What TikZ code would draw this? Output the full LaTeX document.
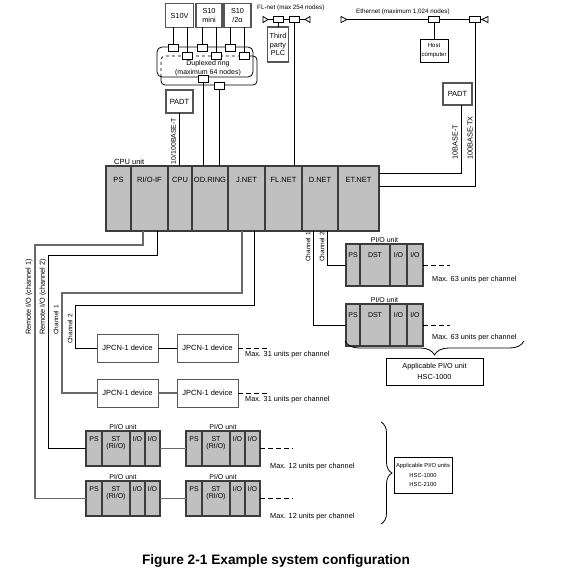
\documentclass[tikz,border=0pt]{standalone}
\usepackage{fontspec}
\setmainfont{Liberation Sans}
\usetikzlibrary{decorations.pathreplacing}
\definecolor{unitgray}{RGB}{192,192,192}
\definecolor{edgegray}{RGB}{60,60,60}
\definecolor{boxgray}{RGB}{85,85,85}
\definecolor{chgray}{RGB}{105,105,105}
% one remote PI/O unit: name, left, top
\newcommand{\remunit}[3]{%
  \node[cell, minimum width=16, minimum height=35, anchor=north west,
    label={[celltxt]north:PS}] (#1-ps) at (#2,#3) {};
  \node[cell, minimum width=28, minimum height=35, anchor=north west,
    label={[celltxt]north:{ST\\(RI/O)}}] (#1-st) at (#1-ps.north east) {};
  \node[cell, minimum width=15, minimum height=35, anchor=north west,
    label={[celltxt]north:I/O}] (#1-io1) at (#1-st.north east) {};
  \node[cell, minimum width=15, minimum height=35, anchor=north west,
    label={[celltxt]north:I/O}] (#1-io2) at (#1-io1.north east) {};
  \node[unittxt] at ([xshift=37pt]#1-ps.north west) {PI/O unit};
}
% one D.NET PI/O unit: name, left, top
\newcommand{\dnetunit}[3]{%
  \node[cell, minimum width=14, minimum height=42, anchor=north west,
    label={[dcelltxt]north:PS}] (#1-ps) at (#2,#3) {};
  \node[cell, minimum width=30, minimum height=42, anchor=north west,
    label={[dcelltxt]north:DST}] (#1-dst) at (#1-ps.north east) {};
  \node[cell, minimum width=17, minimum height=42, anchor=north west,
    label={[dcelltxt]north:I/O}] (#1-io1) at (#1-dst.north east) {};
  \node[cell, minimum width=16, minimum height=42, anchor=north west,
    label={[dcelltxt]north:I/O}] (#1-io2) at (#1-io1.north east) {};
  \node[unittxt] at ([xshift=38.5pt]#1-ps.north west) {PI/O unit};
}

\begin{document}
\begin{tikzpicture}[x=1pt,y=-1pt,
    slot/.style={draw=edgegray, line width=1.3, fill=unitgray, inner sep=0pt,
      outer sep=0pt, minimum height=65, anchor=west},
    cell/.style={draw=edgegray, line width=1.3, fill=unitgray, inner sep=0pt, outer sep=0pt},
    slottxt/.style={anchor=north, yshift=-11pt, inner sep=0pt, font=\fontsize{7.5}{8}\selectfont},
    celltxt/.style={anchor=north, yshift=-5.5pt, inner sep=0pt, align=center,
      font=\fontsize{7}{6.5}\selectfont},
    dcelltxt/.style={celltxt, yshift=-3pt},
    unittxt/.style={anchor=south, yshift=1.5pt, inner sep=0pt, font=\fontsize{7}{8}\selectfont},
    devbox/.style={draw=boxgray, line width=1.1, fill=white, inner sep=0pt, outer sep=0pt,
      align=center, font=\fontsize{7.3}{8.3}\selectfont},
    jpcn/.style={draw=boxgray, line width=1, fill=white, minimum width=61, minimum height=28,
      inner sep=0pt, outer sep=0pt, font=\fontsize{7.5}{8}\selectfont},
    tap/.style={draw, fill=white, line width=0.8, minimum width=10, minimum height=7,
      inner sep=0pt, outer sep=0pt},
    link/.style={line width=0.8},
    graylink/.style={line width=1.1, draw=chgray},
    more/.style={line width=0.8, dash pattern=on 5pt off 3pt},
    note/.style={anchor=west, inner sep=0pt, font=\fontsize{7.3}{8}\selectfont},
    tiny/.style={inner sep=0pt, font=\fontsize{6.3}{7}\selectfont},
    vlabel/.style={rotate=90, inner sep=0pt, font=\fontsize{7.3}{8}\selectfont},
    chlabel/.style={rotate=90, inner sep=0pt, font=\fontsize{6.5}{7}\selectfont},
  ]
  \useasboundingbox (0,0) rectangle (571,575);

  % S10 controllers on the duplexed ring
  \node[devbox, minimum width=28, minimum height=24] (s10v) at (179.5,15.5) {S10V};
  \node[devbox, minimum width=26, minimum height=24] (s10m) at (209,15.5) {S10\\mini};
  \node[devbox, minimum width=27, minimum height=24] (s10a) at (237.5,15.5) {S10\\/2α};

  \draw[link, rounded corners=5] (157,47) rectangle (253,77);
  \draw[link, rounded corners=4] (250,56) -- (257,56) -- (257,85) -- (161,85) -- (161,77);
  \draw[link, dashed, rounded corners=4] (161,77) -- (161,56) -- (250,56);
  \node[tiny, align=center, font=\fontsize{7}{9}\selectfont] (ringlbl) at (208,68.5)
    {Duplexed ring\\(maximum 64 nodes)};

  \node[tap] (ta1) at (173,47.5) {};
  \node[tap] (ta2) at (202,47.5) {};
  \node[tap] (ta3) at (230,47.5) {};
  \node[tap] (tb1) at (187,55.5) {};
  \node[tap] (tb2) at (216,55.5) {};
  \node[tap] (tb3) at (244,55.5) {};
  \node[tap] (rtA) at (203,78.5) {};
  \node[tap] (rtB) at (219,86) {};
  \draw[link] (ta1 |- s10v.south) -- (ta1.north);
  \draw[link] (tb1 |- s10v.south) -- (tb1.north);
  \draw[link] (ta2 |- s10m.south) -- (ta2.north);
  \draw[link] (tb2 |- s10m.south) -- (tb2.north);
  \draw[link] (ta3 |- s10a.south) -- (ta3.north);
  \draw[link] (tb3 |- s10a.south) -- (tb3.north);

  \node[devbox, minimum width=27, minimum height=23, font=\fontsize{7.5}{8}\selectfont]
    (padtL) at (179.5,101.5) {PADT};
  \node[vlabel, font=\fontsize{6.9}{8}\selectfont] at (173.5,141) {10/100BASE-T};

  % FL-net
  \node[tiny, anchor=west] (flnetlbl) at (257,8) {FL-net (max 254 nodes)};
  \coordinate (flLt) at (268,19.5);
  \coordinate (flRt) at (305,19.5);
  \draw[link] (flLt) -- (flRt);
  \draw[link, fill=white] (flLt) -- ++(-5,-3) -- ++(0,6) -- cycle;
  \draw[link, fill=white] (flRt) -- ++(5,-3) -- ++(0,6) -- cycle;
  \node[tap, minimum height=6] (flA) at (278,19.5) {};
  \node[tap, minimum height=6] (flB) at (294,19.5) {};
  \node[devbox, minimum width=21, minimum height=35] (plc) at (278,44.5) {Third\\party\\PLC};
  \draw[link] (flA.south) -- (plc.north);

  % Ethernet
  \node[tiny, anchor=west] (etherlbl) at (356,12) {Ethernet (maximum 1,024 nodes)};
  \coordinate (etLt) at (347,19.5);
  \coordinate (etRt) at (482,19.5);
  \draw[link] (etLt) -- (etRt);
  \draw[link, fill=white] (etLt) -- ++(-6,-3) -- ++(0,6) -- cycle;
  \draw[link, fill=white] (etRt) -- ++(6,-3) -- ++(0,6) -- cycle;
  \node[tap, minimum width=11, minimum height=6] (etH) at (434,19.5) {};
  \node[tap, minimum width=11, minimum height=6] (etR) at (475,19.5) {};
  \node[draw, line width=0.8, fill=white, minimum width=28, minimum height=23, inner sep=0pt,
    align=center, font=\fontsize{6}{9}\selectfont] (host) at (434,50.5) {Host\\computer};
  \draw[link] (etH.south) -- (host.north);
  \node[devbox, minimum width=29, minimum height=22, font=\fontsize{7.5}{8}\selectfont]
    (padtR) at (457.5,94) {PADT};
  \node[vlabel] at (455,142) {10BASE-T};
  \node[vlabel] at (470,138) {100BASE-TX};

  % CPU unit
  \node[anchor=west, inner sep=0pt, font=\fontsize{7.5}{8}\selectfont] (cpulbl) at (114,161.5) {CPU unit};
  \node[slot, minimum width=25, label={[slottxt]north:PS}] (ps) at (106,198.5) {};
  \node[slot, minimum width=37, label={[slottxt]north:RI/O-IF}] (rio) at (ps.east) {};
  \node[slot, minimum width=24, label={[slottxt]north:CPU}] (cpu) at (rio.east) {};
  \node[slot, minimum width=36, label={[slottxt]north:OD.RING}] (odr) at (cpu.east) {};
  \node[slot, minimum width=37, label={[slottxt]north:J.NET}] (jnet) at (odr.east) {};
  \node[slot, minimum width=37, label={[slottxt]north:FL.NET}] (fl) at (jnet.east) {};
  \node[slot, minimum width=36, label={[slottxt]north:D.NET}] (dnet) at (fl.east) {};
  \node[slot, minimum width=41, label={[slottxt]north:ET.NET}] (et) at (dnet.east) {};

  \draw[link] (padtL.south) -- (padtL.south |- cpu.north);
  \draw[link] (rtA.south) -- (rtA.south |- odr.north);
  \draw[link] (rtB.south) -- (rtB.south |- odr.north);
  \draw[link] (flB.south) -- (flB.south |- fl.north);
  \draw[link] ([yshift=-7pt]et.north east) -| ([xshift=4pt]padtR.south);
  \draw[link] ([yshift=-20pt]et.north east) -| (etR.south);

  % D.NET PI/O units
  \dnetunit{dn1}{346}{244}
  \dnetunit{dn2}{346}{304}
  \draw[link] ([xshift=-7pt]dnet.south) |- (dn2-ps.west);
  \draw[link] ([xshift=7pt]dnet.south) |- (dn1-ps.west);
  \node[chlabel] at (308,247) {Channel 1};
  \node[chlabel] at (322,247) {Channel 2};
  \draw[more] (dn1-io2.east) -- ++(27,0);
  \draw[more] (dn2-io2.east) -- ++(27,0);
  \node[note] at (432,280) {Max. 63 units per channel};
  \node[note] at (432,338) {Max. 63 units per channel};
  \draw[link, decorate, decoration={brace, amplitude=14pt}] (524,341) -- (345,341);
  \node[draw, line width=0.8, minimum width=97, minimum height=27, inner sep=0pt, align=center,
    font=\fontsize{7.3}{11}\selectfont] (app1) at (434.5,371.5) {Applicable PI/O unit\\HSC-1000};

  % J.NET devices
  \node[jpcn] (jp1a) at (127.5,348) {JPCN-1 device};
  \node[jpcn] (jp1b) at (207.5,348) {JPCN-1 device};
  \node[jpcn] (jp2a) at (127.5,393) {JPCN-1 device};
  \node[jpcn] (jp2b) at (207.5,393) {JPCN-1 device};
  \draw[link] (jp1a) -- (jp1b);
  \draw[graylink] (jp2a) -- (jp2b);
  \draw[graylink] ([xshift=-4.5pt]jnet.south) -- ++(0,62) -| ([xshift=-35pt]jp2a.west) -- (jp2a.west);
  \draw[link] ([xshift=7.5pt]jnet.south) -- ++(0,74) -| ([xshift=-22pt]jp1a.west) -- (jp1a.west);
  \node[chlabel] at (56,320) {Channel 1};
  \node[chlabel] at (70,329) {Channel 2};
  \draw[more] (jp1b.east) -- ++(32,0);
  \draw[more] (jp2b.east) -- ++(32,0);
  \node[note] at (245,355) {Max. 31 units per channel};
  \node[note] at (245,400) {Max. 31 units per channel};

  % remote I/O units
  \remunit{r1a}{86}{431}
  \remunit{r1b}{186}{431}
  \remunit{r2a}{86}{481}
  \remunit{r2b}{186}{481}
  \draw[graylink] (r1a-io2.east) -- (r1b-ps.west);
  \draw[graylink] (r2a-io2.east) -- (r2b-ps.west);
  \draw[graylink] ([xshift=-6.5pt]rio.south) -- ++(0,14) -| ([xshift=-51pt]r2a-ps.west) -- (r2a-ps.west);
  \draw[link] ([xshift=7.5pt]rio.south) -- ++(0,24) -| ([xshift=-38pt]r1a-ps.west) -- (r1a-ps.west);
  \node[vlabel] at (29,297) {Remote I/O (channel 1)};
  \node[vlabel] at (43,297) {Remote I/O (channel 2)};
  \draw[more] (r1b-io2.east) -- ++(33,0);
  \draw[more] (r2b-io2.east) -- ++(33,0);
  \node[note] at (270,467) {Max. 12 units per channel};
  \node[note] at (270,517) {Max. 12 units per channel};
  \draw[link, decorate, decoration={brace, amplitude=11pt}] (381,422) -- (381,524);
  \node[draw, line width=0.8, minimum width=58, minimum height=36, inner sep=0pt, align=center,
    font=\fontsize{5.8}{9.5}\selectfont] (app2) at (423,475) {Applicable PI/O units\\HSC-1000\\HSC-2100};

  % caption
  \node[inner sep=0pt, font=\bfseries\fontsize{13.7}{15}\selectfont] (caption) at (276,561)
    {Figure 2-1 Example system configuration};
\end{tikzpicture}
\end{document}
